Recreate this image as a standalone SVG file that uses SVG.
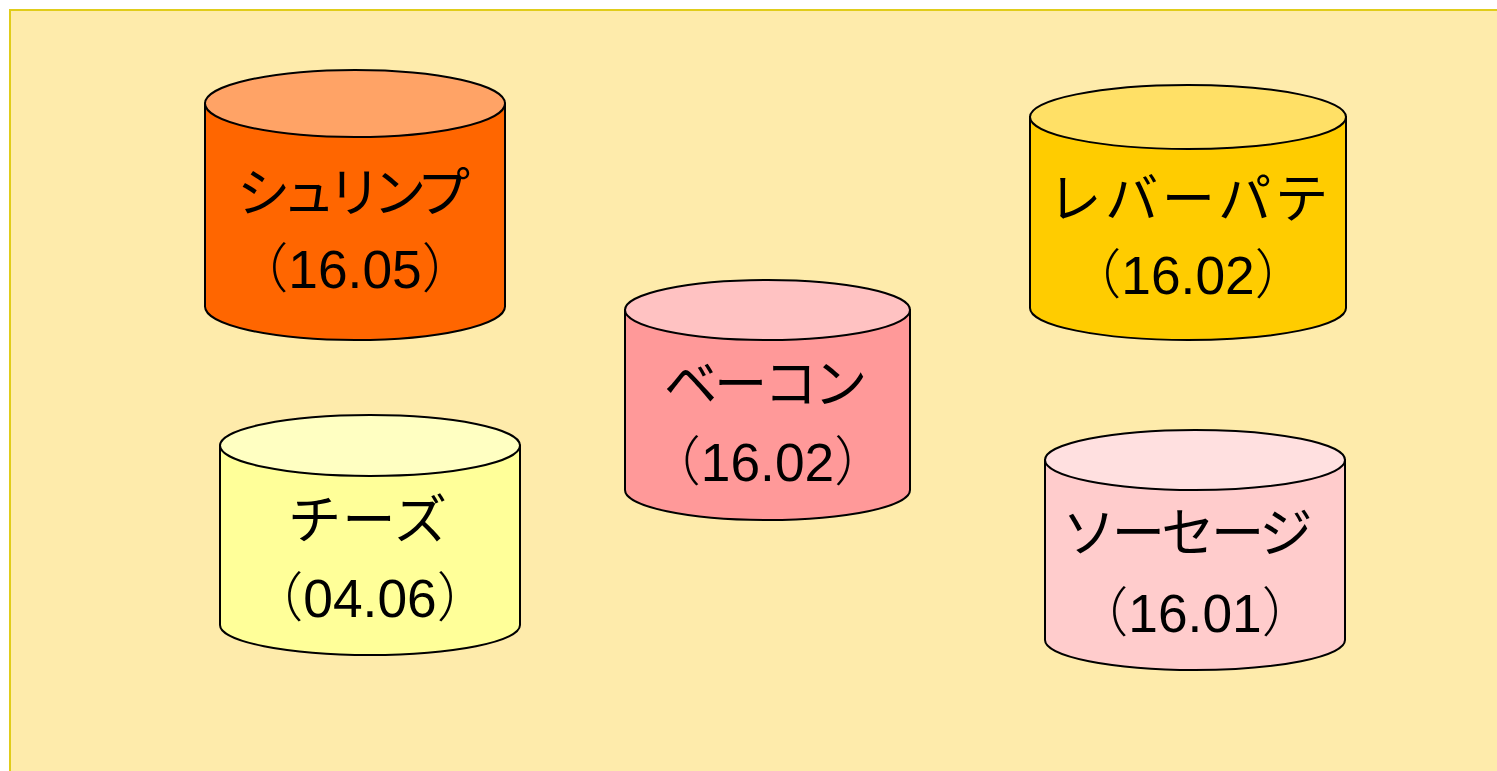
<svg xmlns="http://www.w3.org/2000/svg" width="1497" height="771" viewBox="0 0 1497 771">
<style>
.bg{fill:#FEEBAB;stroke:#E0CC1A;stroke-width:2}
.c{stroke:#000;stroke-width:2}
text{fill:#000;font-size:53.3px;text-anchor:middle;font-family:"Liberation Sans","Noto Sans CJK JP",sans-serif}
.j{font-family:"Noto Sans CJK JP",sans-serif;font-weight:400}
.p{font-family:"Noto Sans CJK JP",sans-serif;font-weight:200}
</style>
<rect width="1497" height="771" fill="#fff"/>
<rect class="bg" x="10" y="10" width="1500" height="770"/>
<g id="shrimp">
<path class="c" fill="#FF6600" d="M205 103.500V306.500A150 33.500 0 0 0 505 306.500V103.500Z"/>
<ellipse class="c" fill="#FFA366" cx="355" cy="103.500" rx="150" ry="33.500"/>
<text class="j" x="349.500" y="212" letter-spacing="-8">シュリンプ</text>
<text x="355" y="288"><tspan class="p">（</tspan>16.05<tspan class="p">）</tspan></text>
</g>
<g id="liver-pate">
<path class="c" fill="#FFCC00" d="M1030 117V308A158 32 0 0 0 1346 308V117Z"/>
<ellipse class="c" fill="#FFE066" cx="1188" cy="117" rx="158" ry="32"/>
<text class="j" x="1190" y="218" letter-spacing="3.500">レバーパテ</text>
<text x="1188" y="294"><tspan class="p">（</tspan>16.02<tspan class="p">）</tspan></text>
</g>
<g id="bacon">
<path class="c" fill="#FF9999" d="M625 310V490A142.500 30 0 0 0 910 490V310Z"/>
<ellipse class="c" fill="#FFC2C2" cx="767.500" cy="310" rx="142.500" ry="30"/>
<text class="j" x="763.900" y="403" letter-spacing="-3.300">ベーコン</text>
<text x="767.500" y="481"><tspan class="p">（</tspan>16.02<tspan class="p">）</tspan></text>
</g>
<g id="cheese">
<path class="c" fill="#FFFF99" d="M220 445.500V625A150 30 0 0 0 520 625V445.500Z"/>
<ellipse class="c" fill="#FFFFC2" cx="370" cy="445.500" rx="150" ry="30.500"/>
<text class="j" x="368" y="539" letter-spacing="1">チーズ</text>
<text x="370" y="617"><tspan class="p">（</tspan>04.06<tspan class="p">）</tspan></text>
</g>
<g id="sausage">
<path class="c" fill="#FFCCCC" d="M1045 460V640A150 30 0 0 0 1345 640V460Z"/>
<ellipse class="c" fill="#FFE0E0" cx="1195" cy="460" rx="150" ry="30"/>
<text class="j" x="1185.600" y="552" letter-spacing="-3.750">ソーセージ</text>
<text x="1195" y="632"><tspan class="p">（</tspan>16.01<tspan class="p">）</tspan></text>
</g>
<g id="connectors"/>
</svg>
